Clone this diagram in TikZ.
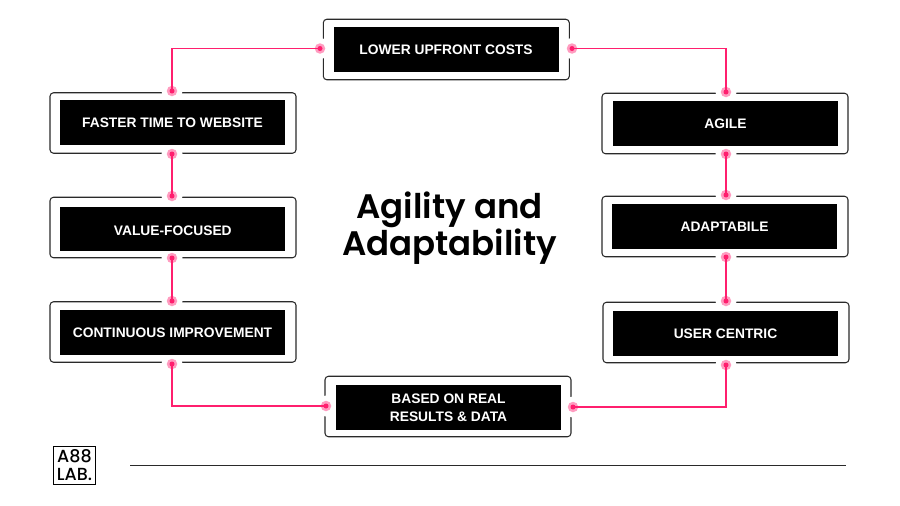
\documentclass[tikz,border=0pt]{standalone}
\usepackage{fontspec}
\setmainfont{Liberation Sans}
\newfontfamily\titlefont{Poppins SemiBold}
\newfontfamily\logofont{Poppins Medium}
\newfontfamily\labelfont{Liberation Sans}
\definecolor{hotpink}{HTML}{FF1F6E}
\definecolor{halopink}{HTML}{FF9CC0}
\definecolor{edgegrey}{HTML}{2A2A2A}
\tikzset{
  x=1pt,y=-1pt,
  framebox/.style={draw=edgegrey,line width=1.05pt,rounded corners=3.5pt,minimum width=246pt,minimum height=60.5pt,inner sep=0pt,fill=white},
  blackbox/.style={fill=black,minimum width=225pt,minimum height=44.5pt,inner sep=0pt,text=white,font=\labelfont\bfseries\fontsize{13.8}{18}\selectfont,align=center},
  gapdot/.style={circle,fill=white,minimum size=21pt,inner sep=0pt},
  halodot/.style={circle,fill=halopink,minimum size=10.5pt,inner sep=0pt},
  coredot/.style={circle,fill=hotpink,minimum size=5pt,inner sep=0pt},
  linkline/.style={draw=hotpink,line width=1.05pt}
}
\newcommand{\portdot}[2]{%
  \node[gapdot] at (#2) {};
  \node[halodot] (#1) at (#2) {};
  \node[coredot] at (#2) {};
}
\begin{document}
\begin{tikzpicture}
\useasboundingbox (0,0) rectangle (900,506);
\fill[white] (0,0) rectangle (900,506);
% frames
\node[framebox] (ftop) at (446.3,49.5) {};
\node[framebox] (fl1) at (173,123) {};
\node[framebox] (fl2) at (173,227.5) {};
\node[framebox] (fl3) at (173,332) {};
\node[framebox] (fr1) at (725,123.5) {};
\node[framebox] (fr2) at (725,226.5) {};
\node[framebox] (fr3) at (726,332.5) {};
\node[framebox] (fbot) at (448,406.5) {};
% port gaps and dots
\portdot{ptl}{320,48.5}
\portdot{ptr}{572,48.5}
\portdot{pl1t}{172,91}
\portdot{pl1b}{172,154}
\portdot{pl2t}{172,196}
\portdot{pl2b}{172,258}
\portdot{pl3t}{172,301}
\portdot{pl3b}{172,364}
\portdot{pbl}{326,406}
\portdot{pbr}{573,407}
\portdot{pr1t}{726,92}
\portdot{pr1b}{726,154}
\portdot{pr2t}{726,195}
\portdot{pr2b}{726,257}
\portdot{pr3t}{726,301}
\portdot{pr3b}{726,365}
% connectors
\draw[linkline] (ptl.center) -| (pl1t.center);
\draw[linkline] (ptr.center) -| (pr1t.center);
\draw[linkline] (pl1b.center) -- (pl2t.center);
\draw[linkline] (pl2b.center) -- (pl3t.center);
\draw[linkline] (pl3b.center) |- (pbl.center);
\draw[linkline] (pr1b.center) -- (pr2t.center);
\draw[linkline] (pr2b.center) -- (pr3t.center);
\draw[linkline] (pr3b.center) |- (pbr.center);
% inner labels
\node[blackbox] (top) at (446,49.3) {LOWER UPFRONT COSTS};
\node[blackbox] (l1) at (172.5,122.5) {FASTER TIME TO WEBSITE};
\node[blackbox,text height=13pt,text depth=0pt] (l2) at (172.8,229) {VALUE-FOCUSED};
\node[blackbox] (l3) at (172.5,332.5) {CONTINUOUS IMPROVEMENT};
\node[blackbox] (r1) at (725.5,123.5) {AGILE};
\node[blackbox] (r2) at (724.5,226.5) {ADAPTABILE};
\node[blackbox] (r3) at (725.5,333.5) {USER CENTRIC};
\node[blackbox] (bot) at (448.5,407.5) {BASED ON REAL\\RESULTS \& DATA};
% title
\node[font=\titlefont\fontsize{34}{37}\selectfont,align=center,inner sep=0pt] (title) at (449.5,228.5) {Agility and\\Adaptability};
% logo
\node[draw=black,line width=1.1pt,minimum width=42pt,minimum height=38.5pt,inner sep=0pt,align=center,font=\logofont\fontsize{17.5}{17.5}\selectfont] (logo) at (74.5,465.3) {A88\\LAB.};
% rule
\coordinate (rulea) at (130,465.7);
\coordinate (ruleb) at (846,465.7);
\draw[edgegrey,line width=1pt] (rulea) -- (ruleb);
\end{tikzpicture}
\end{document}
